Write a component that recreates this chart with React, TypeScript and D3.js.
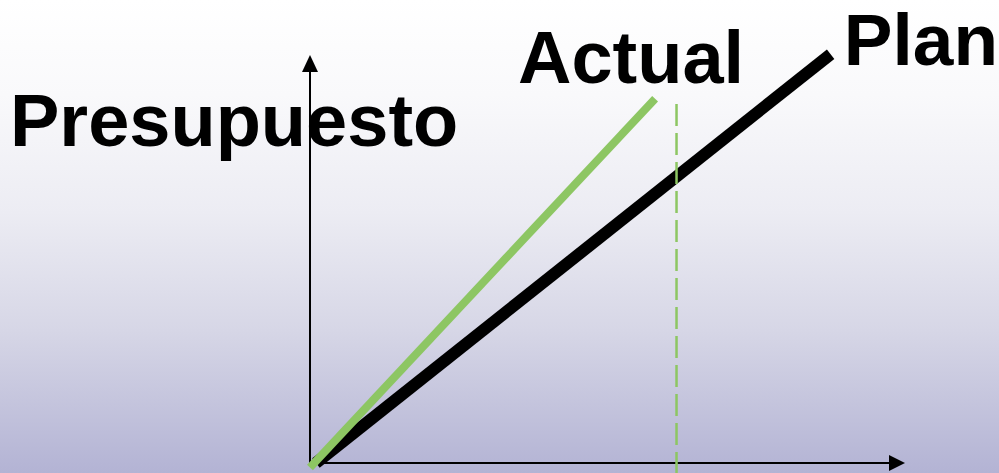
import React from "react";
import * as d3 from "d3";

// ---- data ----
const axisLabel = "Presupuesto";
const seriesNames = ["Plan", "Actual"];
const planX = [1, 87.5];
const planY = [0, 100.2];
const actualX = [0, 58];
const actualY = [-1.1, 89.3];
const todayX = [61.6, 61.6];
const todayY = [88, -3];

const W = 999;
const H = 473;

export default function App() {
  const x = d3.scaleLinear().domain([0, 100]).range([310, 905]);
  const y = d3.scaleLinear().domain([0, 100]).range([463, 55]);
  const line = d3
    .line<[number, number]>()
    .x((d) => x(d[0]))
    .y((d) => y(d[1]));

  const plan = planX.map((v, i) => [v, planY[i]] as [number, number]);
  const actual = actualX.map((v, i) => [v, actualY[i]] as [number, number]);
  const today = todayX.map((v, i) => [v, todayY[i]] as [number, number]);

  const x0 = x(0);
  const y0 = y(0);
  const yTop = y(100);
  const xEnd = x(100);
  const font = "'Liberation Sans', Arial, sans-serif";

  return (
    <svg
      width={W}
      height={H}
      style={{ position: "absolute", left: 0, top: 0, display: "block" }}
    >
      <defs>
        <linearGradient id="bg" x1="0" y1="0" x2="0" y2="1">
          <stop offset="0" stopColor="#ffffff" />
          <stop offset="0.2" stopColor="#f9f9fb" />
          <stop offset="0.45" stopColor="#ececf3" />
          <stop offset="0.7" stopColor="#d6d6e6" />
          <stop offset="1" stopColor="#b3b3d4" />
        </linearGradient>
      </defs>
      <rect x={0} y={0} width={W} height={H} fill="url(#bg)" />

      {/* axes */}
      <line x1={x0} y1={y0} x2={x0} y2={yTop + 16} stroke="#000" strokeWidth={2} />
      <polygon
        points={`${x0},${yTop} ${x0 - 8},${yTop + 17} ${x0 + 8},${yTop + 17}`}
        fill="#000"
      />
      <line x1={x0} y1={y0} x2={xEnd - 14} y2={y0} stroke="#000" strokeWidth={2} />
      <polygon
        points={`${xEnd},${y0} ${xEnd - 16},${y0 - 8} ${xEnd - 16},${y0 + 8}`}
        fill="#000"
      />

      {/* plan */}
      <path d={line(plan) || ""} stroke="#000" strokeWidth={12} fill="none" />
      {/* actual */}
      <path d={line(actual) || ""} stroke="#8dc663" strokeWidth={8} fill="none" />
      {/* today */}
      <path
        d={line(today) || ""}
        stroke="#8dc663"
        strokeWidth={2.5}
        strokeDasharray="22 7"
        fill="none"
      />

      <text x={10} y={146} fontFamily={font} fontWeight="bold" fontSize={74} fill="#000">
        {axisLabel}
      </text>
      <text x={518} y={83} fontFamily={font} fontWeight="bold" fontSize={74} fill="#000">
        {seriesNames[1]}
      </text>
      <text
        x={998}
        y={65}
        textAnchor="end"
        fontFamily={font}
        fontWeight="bold"
        fontSize={73}
        fill="#000"
      >
        {seriesNames[0]}
      </text>
    </svg>
  );
}
